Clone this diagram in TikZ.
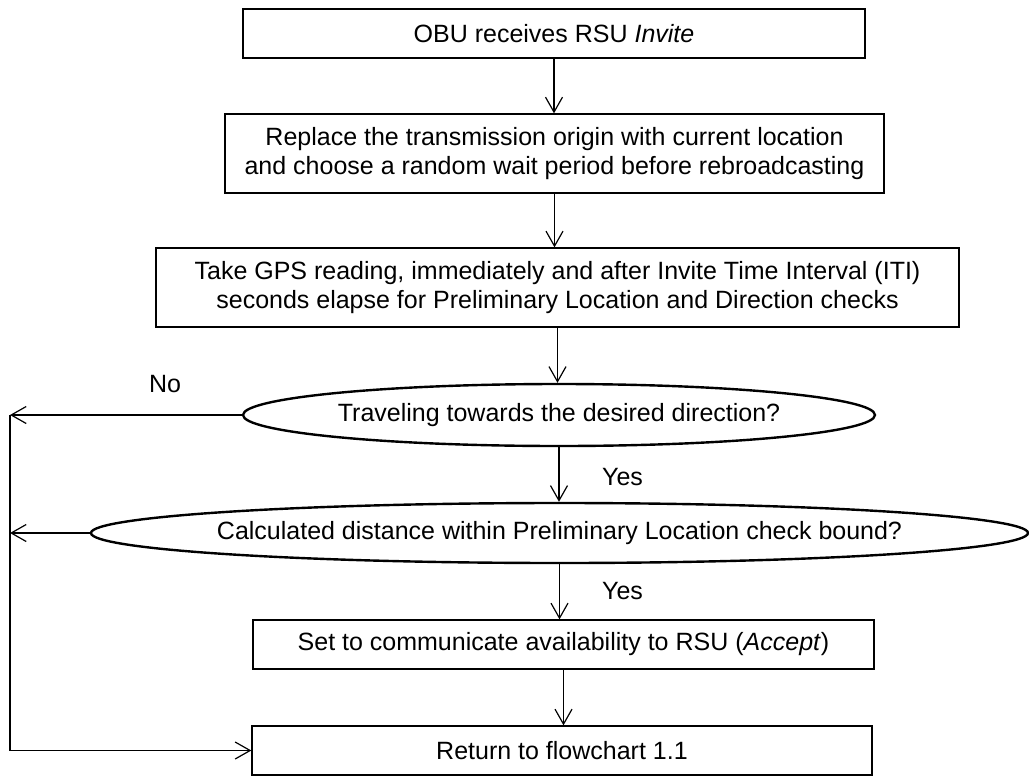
\documentclass[tikz,border=0pt]{standalone}
\usepackage{fontspec}
\setmainfont{Liberation Sans}
\usetikzlibrary{shapes.geometric,arrows.meta}
\begin{document}
\begin{tikzpicture}[x=1pt,y=-1pt,
  font=\fontsize{25}{29.5}\selectfont,
  procbox/.style={draw, line width=1.3pt, rectangle, inner sep=0pt, align=center},
  decision/.style={draw, line width=2.4pt, ellipse, inner sep=0pt},
  arr/.style={line width=1.2pt, -{Straight Barb[length=15pt,width=17pt,line width=1.2pt]}},
  lbl/.style={inner sep=0pt}]
\useasboundingbox (0,0) rectangle (1029,777);

\node[procbox, minimum width=622pt, minimum height=49pt] (b1) at (554,33.5) {OBU receives RSU \textit{Invite}};
\node[procbox, minimum width=659pt, minimum height=79pt] (b2) at (554.5,153.5)
  {Replace the transmission origin with current location\\and choose a random wait period before rebroadcasting};
\node[procbox, minimum width=803pt, minimum height=79pt] (b3) at (557.5,287.5)
  {Take GPS reading, immediately and after Invite Time Interval (ITI)\\seconds elapse for Preliminary Location and Direction checks};
\node[decision, minimum width=632pt, minimum height=62pt] (e1) at (559,415)
  {\makebox[0pt]{Traveling towards the desired direction?}};
\node[decision, minimum width=937pt, minimum height=60pt] (e2) at (559.5,533)
  {\makebox[0pt]{Calculated distance within Preliminary Location check bound?}};
\node[procbox, minimum width=621pt, minimum height=49pt] (b4) at (563.5,644.5)
  {Set to communicate availability to RSU (\textit{Accept})};
\node[procbox, minimum width=620pt, minimum height=49pt] (b5) at (562,750.5)
  {Return to flowchart 1.1};

\coordinate (L1) at (10,415);
\coordinate (L2) at (10,533);
\coordinate (L3) at (10,750.5);

\node[lbl] (no) at (165,384) {No};
\node[lbl] (yes1) at (622.5,477) {Yes};
\node[lbl] (yes2) at (622.5,591) {Yes};

\draw[arr] (b1.south) -- (b1.south |- b2.north);
\draw[arr] (b2.south) -- (b2.south |- b3.north);
\draw[arr] (b3.south) -- (b3.south |- e1.north);
\draw[arr] (e1.south) -- (e1.south |- e2.north);
\draw[arr] (e2.south) -- (e2.south |- b4.north);
\draw[arr] (b4.south) -- (b4.south |- b5.north);

\draw[arr] (e1.west) -- (L1);
\draw[arr] (e2.west) -- (L2);
\draw[arr] (L1) -- (L3) -- (b5.west);
\end{tikzpicture}
\end{document}
